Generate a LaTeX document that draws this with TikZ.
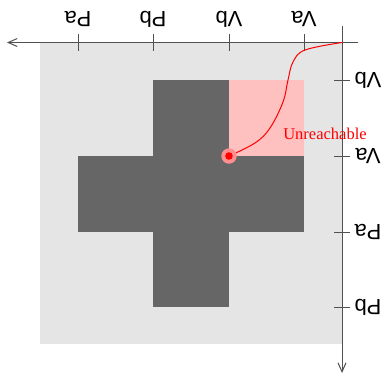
\documentclass[tikz,border=0pt]{standalone}
\usepackage{fontspec}
\setmainfont{Liberation Serif}
\newfontfamily\axfont{Liberation Sans}
\usetikzlibrary{arrows.meta}
\definecolor{bglight}{HTML}{E5E5E5}
\definecolor{crossdark}{HTML}{666666}
\definecolor{pinkfill}{HTML}{FFC0C0}
\definecolor{halo}{HTML}{FF8F8F}
\definecolor{axisgray}{HTML}{505050}
\tikzset{
  axisline/.style={draw=axisgray, line width=1pt},
  tickline/.style={draw=axisgray, line width=1pt},
  axlabel/.style={font=\axfont\fontsize{22}{22}\selectfont, rotate=180, inner sep=0pt, text=black},
  redlbl/.style={font=\fontsize{16.5}{16.5}\selectfont, text=red, inner sep=0pt},
}
\begin{document}
\begin{tikzpicture}[x=1pt,y=-1pt]
\useasboundingbox (0,0) rectangle (385,378);
% background square
\fill[bglight] (40,42.5) rectangle (342,344);
% pink unreachable region
\fill[pinkfill] (229,80) rectangle (304,156);
% cross
\fill[crossdark] (153,80) rectangle (229,307);
\fill[crossdark] (78,156) rectangle (304,232);
% axes
\coordinate (hx0) at (358,42.5);
\coordinate (hx1) at (7,42.5);
\coordinate (vy0) at (342,26);
\coordinate (vy1) at (342,373);
\draw[axisline, -{Straight Barb[length=9pt,width=8pt]}] (hx0) -- (hx1);
\draw[axisline, -{Straight Barb[length=9pt,width=8pt]}] (vy0) -- (vy1);
% top ticks
\foreach \x/\lab/\nm in {78/Pa/t1, 153/Pb/t2, 229/Vb/t3, 304/Va/t4}{
  \coordinate (\nm a) at (\x,34);
  \coordinate (\nm b) at (\x,51);
  \draw[tickline] (\nm a) -- (\nm b);
  \node[axlabel] (\nm l) at (\x,19) {\lab};
}
% right ticks
\foreach \y/\lab/\nm in {80/Vb/r1, 156/Va/r2, 232/Pa/r3, 307/Pb/r4}{
  \coordinate (\nm a) at (334,\y);
  \coordinate (\nm b) at (350,\y);
  \draw[tickline] (\nm a) -- (\nm b);
  \node[axlabel] (\nm l) at (368,\y) {\lab};
}
% red path
\coordinate (orig) at (342,42.5);
\coordinate (goal) at (229,156);
\draw[red, line width=1pt] plot[smooth, tension=0.6] coordinates {(342,42.5) (305,50) (293,62) (288,80) (283,102) (270,128) (255,143) (229,156)};
\fill[halo] (goal) circle (7.7);
\fill[red] (goal) circle (3.8);
\node[redlbl] (unr) at (325,134) {Unreachable};
\end{tikzpicture}
\end{document}
